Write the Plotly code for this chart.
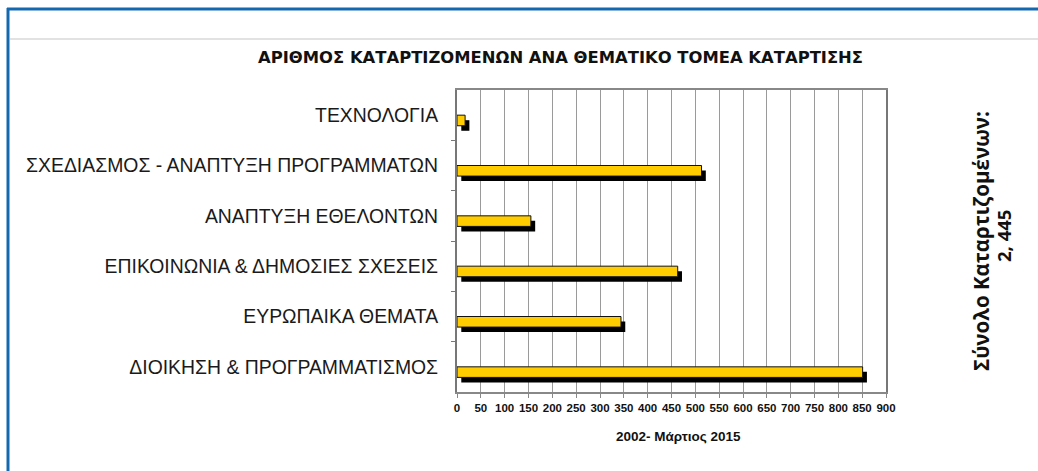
import plotly.graph_objects as go

categories = [
    "ΔΙΟΙΚΗΣΗ & ΠΡΟΓΡΑΜΜΑΤΙΣΜΟΣ",
    "ΕΥΡΩΠΑΙΚΑ ΘΕΜΑΤΑ",
    "ΕΠΙΚΟΙΝΩΝΙΑ & ΔΗΜΟΣΙΕΣ ΣΧΕΣΕΙΣ",
    "ΑΝΑΠΤΥΞΗ ΕΘΕΛΟΝΤΩΝ",
    "ΣΧΕΔΙΑΣΜΟΣ - ΑΝΑΠΤΥΞΗ ΠΡΟΓΡΑΜΜΑΤΩΝ",
    "ΤΕΧΝΟΛΟΓΙΑ",
]
values = [851, 344, 463, 155, 513, 17]
x_ticks = list(range(0, 901, 50))
title = "ΑΡΙΘΜΟΣ ΚΑΤΑΡΤΙΖΟΜΕΝΩΝ ΑΝΑ ΘΕΜΑΤΙΚΟ ΤΟΜΕΑ ΚΑΤΑΡΤΙΣΗΣ"
x_title = "2002- Μάρτιος 2015"
side_note_lines = ["Σύνολο Καταρτιζομένων:", "2, 445"]

pos = list(range(len(categories)))
shadow_shift = 9

W, H = 1038, 471
L, R, T, B = 457, 152, 90, 79
PW, PH = W - L - R, H - T - B


def px(x):
    return (x - L) / PW


def py(y):
    return (H - B - y) / PH


fig = go.Figure()
# shadow bars
fig.add_trace(go.Bar(
    y=pos, x=values, base=shadow_shift, orientation="h",
    offset=-0.31, width=0.21,
    marker=dict(color="#000000", line=dict(width=0)),
    hoverinfo="skip", showlegend=False,
))
# main bars
fig.add_trace(go.Bar(
    y=pos, x=values, orientation="h",
    offset=-0.21, width=0.21,
    marker=dict(color="#FFCC00", line=dict(color="#111111", width=1)),
    showlegend=False,
))

fig.update_layout(
    width=W, height=H,
    margin=dict(l=L, r=R, t=T, b=B),
    paper_bgcolor="white", plot_bgcolor="white",
    barmode="overlay",
    font=dict(family="Liberation Sans, Arial, sans-serif", color="#1a1a1a"),
    xaxis=dict(
        range=[0, 900], tickvals=x_ticks,
        ticktext=["<b>%d</b>" % v for v in x_ticks],
        tickfont=dict(size=11.5, family="Liberation Sans, Arial", color="#111"),
        showgrid=True, gridcolor="#9a9a9a", gridwidth=1,
        showline=True, linecolor="#888888", linewidth=2, mirror=True,
        ticks="outside", ticklen=4, tickcolor="#888888",
        zeroline=False, fixedrange=True,
    ),
    yaxis=dict(
        range=[-0.5, 5.5], tickvals=pos, ticktext=categories,
        tickfont=dict(size=19.4, family="Liberation Sans, Arial", color="#1a1a1a"),
        showgrid=False, showline=True, linecolor="#777777", linewidth=2,
        mirror=True, ticks="", ticklabelstandoff=13,
        minor=dict(tickvals=[p + 0.5 for p in pos[:-1]], ticks="outside",
                   ticklen=4, tickcolor="#777777"),
        zeroline=False, fixedrange=True,
    ),
    annotations=[
        dict(text="<b>" + title + "</b>", xref="paper", yref="paper",
             x=px(560), y=py(57), xanchor="center", yanchor="middle",
             showarrow=False, font=dict(size=16.4, family="DejaVu Sans", color="#111")),
        dict(text="<b>" + x_title + "</b>", xref="paper", yref="paper",
             x=px(678), y=py(436), xanchor="center", yanchor="middle",
             showarrow=False, font=dict(size=13.5, family="Liberation Sans, Arial", color="#111")),
        dict(text="<b>" + side_note_lines[0] + "</b>", xref="paper", yref="paper",
             x=px(981), y=py(241), xanchor="center", yanchor="middle",
             textangle=-90, showarrow=False,
             font=dict(size=20.5, family="Open Sans, Liberation Sans", color="#111")),
        dict(text="<b>" + side_note_lines[1] + "</b>", xref="paper", yref="paper",
             x=px(1003), y=py(236), xanchor="center", yanchor="middle",
             textangle=-90, showarrow=False,
             font=dict(size=18.5, family="Open Sans, Liberation Sans", color="#111")),
    ],
)

# faint separator line and blue border on top and left
fig.add_shape(type="line", xref="paper", yref="paper",
              x0=px(10), x1=px(W), y0=py(39), y1=py(39),
              line=dict(color="#e2e2e2", width=2))
fig.add_shape(type="line", xref="paper", yref="paper",
              x0=px(7), x1=px(W), y0=py(9), y1=py(9),
              line=dict(color="#1468b0", width=3))
fig.add_shape(type="line", xref="paper", yref="paper",
              x0=px(8), x1=px(8), y0=py(8), y1=py(H),
              line=dict(color="#1468b0", width=3))

fig.write_html("out.html", config={"displayModeBar": False},
               post_script="document.body.style.margin='0';")
